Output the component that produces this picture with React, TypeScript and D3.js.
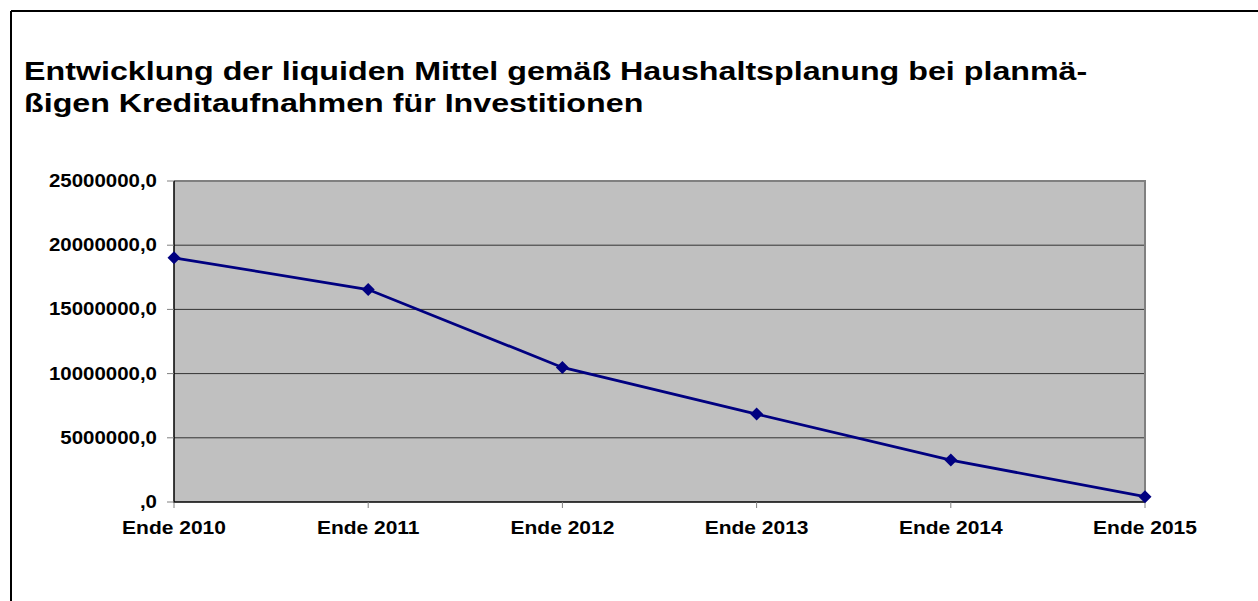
import React from "react";
import * as d3 from "d3";

const categories = ["Ende 2010", "Ende 2011", "Ende 2012", "Ende 2013", "Ende 2014", "Ende 2015"];
const values = [19020000, 16550000, 10480000, 6850000, 3270000, 410000];
const yTicks = [0, 5000000, 10000000, 15000000, 20000000, 25000000];
const titleLines = [
  "Entwicklung der liquiden Mittel gemäß Haushaltsplanung bei planmä-",
  "ßigen Kreditaufnahmen für Investitionen",
];

const W = 1258;
const H = 601;
const left = 174;
const right = 1145;
const top = 181;
const bottom = 502;

function fmt(v: number): string {
  if (v === 0) return ",0";
  return String(v) + ",0";
}

export default function App() {
  const x = d3.scalePoint<string>().domain(categories).range([left, right]).padding(0);
  const y = d3.scaleLinear().domain([0, 25000000]).range([bottom, top]);
  const line = d3
    .line<number>()
    .x((_, i) => x(categories[i]) as number)
    .y((d) => y(d));
  const font = "'Liberation Sans', Arial, sans-serif";
  return (
    <svg
      width={W}
      height={H}
      style={{ position: "absolute", left: 0, top: 0, background: "#fff" }}
      fontFamily={font}
    >
      <rect x={0} y={0} width={W} height={H} fill="#fff" />
      <line x1={11} y1={11} x2={W} y2={11} stroke="#000" strokeWidth={2} />
      <line x1={11} y1={11} x2={11} y2={H} stroke="#000" strokeWidth={2} />
      {titleLines.map((t, i) => (
        <text
          key={i}
          transform={`translate(24,${80 + i * 32}) scale(1.24,1)`}
          fontSize={26}
          fontWeight="bold"
          fill="#000"
        >
          {t}
        </text>
      ))}
      <rect x={left} y={top} width={right - left} height={bottom - top} fill="#c0c0c0" />
      {yTicks.slice(1, -1).map((t) => (
        <line key={t} x1={left} x2={right} y1={y(t)} y2={y(t)} stroke="#333" strokeWidth={1} />
      ))}
      <line x1={left} x2={right + 1} y1={top} y2={top} stroke="#808080" strokeWidth={2} />
      <line x1={right} x2={right} y1={top} y2={bottom} stroke="#808080" strokeWidth={2} />
      <line x1={left} x2={left} y1={top} y2={bottom + 1} stroke="#000" strokeWidth={1.5} />
      <line x1={left} x2={right} y1={bottom} y2={bottom} stroke="#000" strokeWidth={1.5} />
      {yTicks.map((t) => (
        <g key={t}>
          <line x1={167} x2={left} y1={y(t)} y2={y(t)} stroke="#808080" strokeWidth={1} />
          <text
            transform={`translate(157,${y(t) + 6}) scale(1.17,1)`}
            textAnchor="end"
            fontSize={17.5}
            fontWeight="bold"
            fill="#000"
          >
            {fmt(t)}
          </text>
        </g>
      ))}
      {categories.map((c) => (
        <g key={c}>
          <line x1={x(c)} x2={x(c)} y1={bottom} y2={bottom + 6} stroke="#808080" strokeWidth={1} />
          <text
            transform={`translate(${x(c)},534) scale(1.2,1)`}
            textAnchor="middle"
            fontSize={17.5}
            fontWeight="bold"
            fill="#000"
          >
            {c}
          </text>
        </g>
      ))}
      <path d={line(values) || ""} fill="none" stroke="#000080" strokeWidth={2.8} />
      {values.map((v, i) => {
        const cx = x(categories[i]) as number;
        const cy = y(v);
        const s = 6.5;
        return (
          <path
            key={i}
            d={`M${cx},${cy - s}L${cx + s},${cy}L${cx},${cy + s}L${cx - s},${cy}Z`}
            fill="#000080"
          />
        );
      })}
    </svg>
  );
}
